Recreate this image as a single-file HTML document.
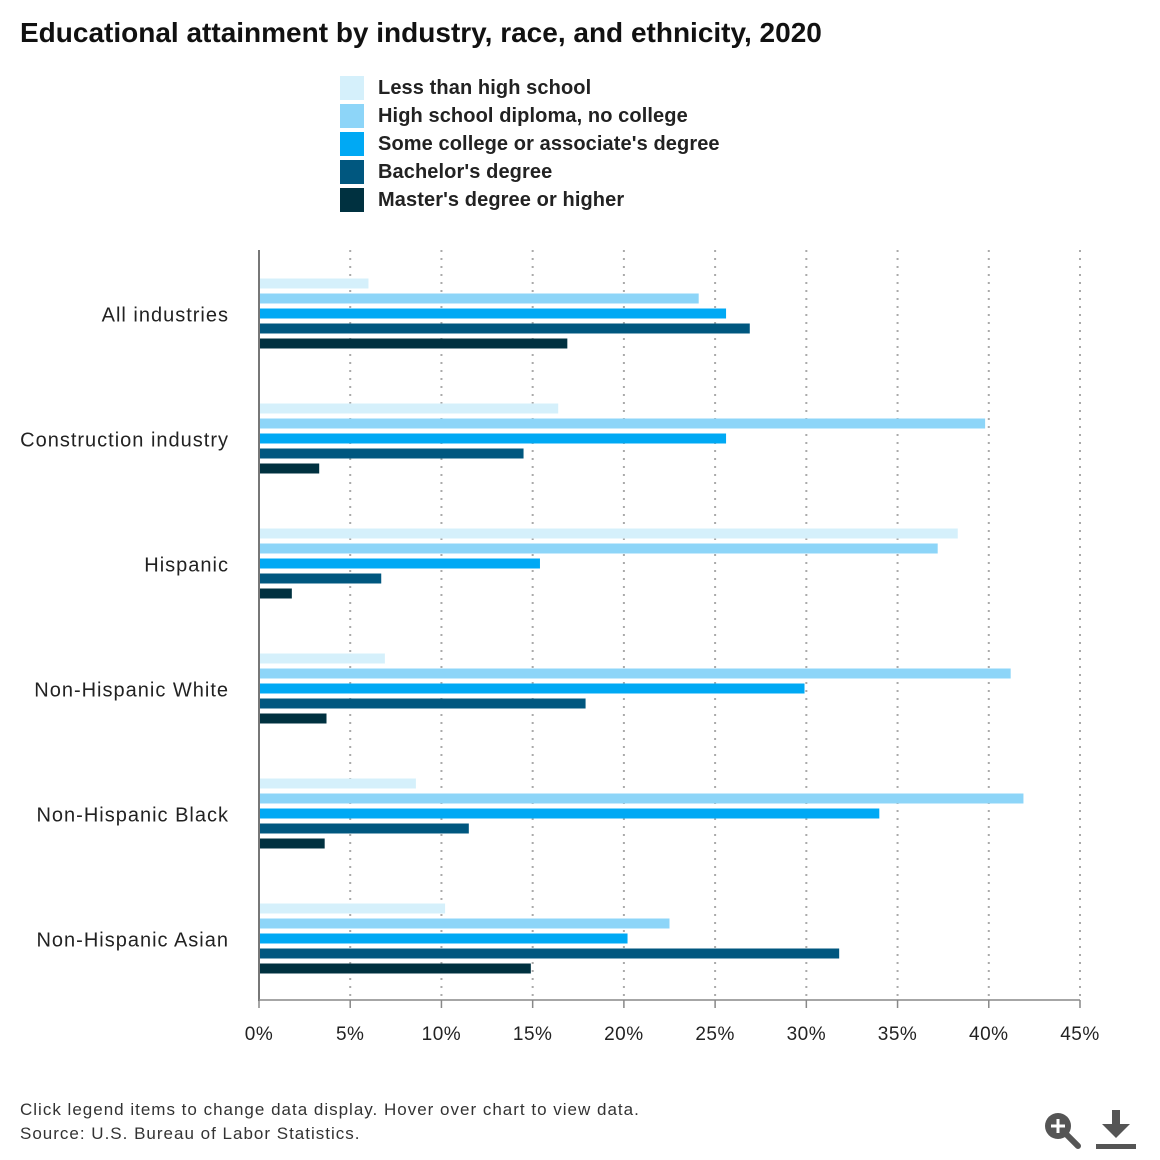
<!DOCTYPE html>
<html><head><meta charset="utf-8"><style>
body{margin:0;background:#fff;font-family:"Liberation Sans",sans-serif;}
#wrap{position:relative;width:1160px;height:1160px;overflow:hidden}
.title{position:absolute;left:20px;top:17px;font-size:28px;font-weight:bold;color:#111}
.leg{position:absolute;left:340px;height:24px;display:flex;align-items:center;cursor:pointer}
.leg span.sw{width:24px;height:24px;display:inline-block;margin-right:14px}
.leg span.t{font-size:20px;font-weight:bold;color:#222;letter-spacing:0.1px}
.foot{position:absolute;left:20px;font-size:17px;color:#333;letter-spacing:1px}
</style></head><body>
<div id="wrap">
<div class="title">Educational attainment by industry, race, and ethnicity, 2020</div>
<div id="legend"></div>
<svg id="chart" width="1160" height="1160" style="position:absolute;left:0;top:0"></svg>
<div class="foot" style="top:1100px">Click legend items to change data display. Hover over chart to view data.</div>
<div class="foot" style="top:1124px">Source: U.S. Bureau of Labor Statistics.</div>
<svg width="40" height="40" style="position:absolute;left:1042px;top:1110px"><circle cx="16" cy="16" r="13" fill="#555"/><line x1="25" y1="25" x2="36" y2="36" stroke="#555" stroke-width="6" stroke-linecap="round"/><line x1="9" y1="16" x2="23" y2="16" stroke="#fff" stroke-width="3"/><line x1="16" y1="9" x2="16" y2="23" stroke="#fff" stroke-width="3"/></svg>
<svg width="44" height="44" style="position:absolute;left:1094px;top:1108px"><rect x="18" y="2" width="8" height="14" fill="#555"/><polygon points="8,16 36,16 22,30" fill="#555"/><rect x="2" y="36" width="40" height="5" fill="#555"/></svg>
</div>
<script>
const categories=["All industries","Construction industry","Hispanic","Non-Hispanic White","Non-Hispanic Black","Non-Hispanic Asian"];
const seriesNames=["Less than high school","High school diploma, no college","Some college or associate's degree","Bachelor's degree","Master's degree or higher"];
const seriesColors=["#d5f0fb","#8dd5f8","#00a9f4","#00577f","#003140"];
const lessHS=[6.0,16.4,38.3,6.9,8.6,10.2];
const hsDiploma=[24.1,39.8,37.2,41.2,41.9,22.5];
const someCollege=[25.6,25.6,15.4,29.9,34.0,20.2];
const bachelors=[26.9,14.5,6.7,17.9,11.5,31.8];
const masters=[16.9,3.3,1.8,3.7,3.6,14.9];
const ticks=[0,5,10,15,20,25,30,35,40,45];
const series=[lessHS,hsDiploma,someCollege,bachelors,masters];
const NS="http://www.w3.org/2000/svg";
const svg=document.getElementById('chart');
const x0=259,x1=1080,y0=250,y1=1000;
const xs=v=>x0+(v/45)*(x1-x0);
const band=(y1-y0)/categories.length;
function el(t,a){const e=document.createElementNS(NS,t);for(const k in a)e.setAttribute(k,a[k]);svg.appendChild(e);return e;}
ticks.forEach((t,i)=>{
 if(t>0){const g=el('line',{x1:xs(t),x2:xs(t),y1:y0,y2:y1,stroke:'#aaa','stroke-width':2,'stroke-dasharray':'2,6'});
 
 }
 const tk=el('line',{x1:xs(t),x2:xs(t),y1:y1,y2:y1+8,stroke:'#888','stroke-width':1.5});
 
 
 const lb=el('text',{x:xs(t),y:1040,'text-anchor':'middle','font-size':19,fill:'#222','font-family':'Liberation Sans, sans-serif','letter-spacing':0.5});
 lb.textContent=t+'%';
 
 
});
categories.forEach((c,ci)=>{
 const cy=y0+band*ci+band/2;
 const lb=el('text',{x:229,y:cy+9,'text-anchor':'end','font-size':20,fill:'#222','font-family':'Liberation Sans, sans-serif','letter-spacing':1});
 lb.textContent=c;
 
 
 series.forEach((s,si)=>{
  const by=cy-34+si*15;
  const r=el('rect',{x:x0,y:by,width:xs(s[ci])-x0,height:10,fill:seriesColors[si]});
  
  
 });
});
const ax=el('line',{x1:x0,x2:x0,y1:y0,y2:y1+1,stroke:'#777','stroke-width':2});


const bx=el('line',{x1:x0,x2:x1,y1:y1,y2:y1,stroke:'#888','stroke-width':1.5});


const leg=document.getElementById('legend');
seriesNames.forEach((n,i)=>{
 const d=document.createElement('div');d.className='leg';d.style.top=(76+i*28)+'px';
 d.innerHTML='<span class="sw" style="background:'+seriesColors[i]+'"></span><span class="t">'+n+'</span>';
 
 
 leg.appendChild(d);
});
</script>
</body></html>
